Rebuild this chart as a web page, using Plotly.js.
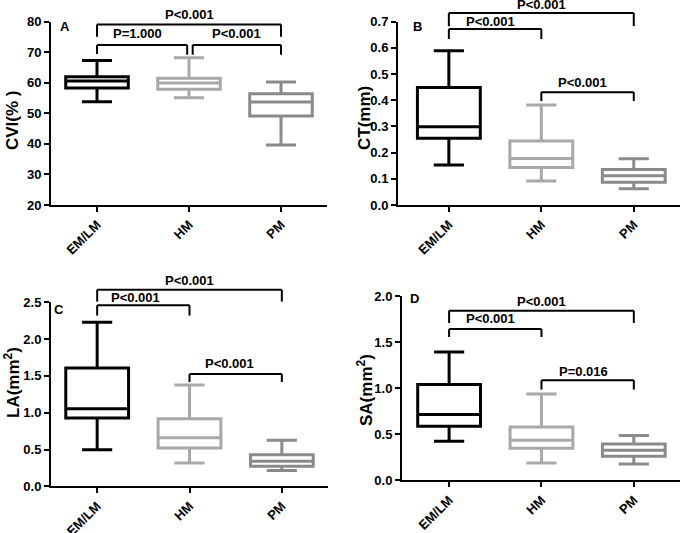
<!DOCTYPE html>
<html><head><meta charset="utf-8">
<script src="https://cdn.plot.ly/plotly-3.0.1.min.js"></script>
<style>html,body{margin:0;padding:0;background:#fff}#chart{width:680px;height:533px}</style>
</head><body><div id="chart"></div>
<script>
const groups = ['EM/LM', 'HM', 'PM'];

// Panel A: CVI(%)
const cviLow  = [53.8, 55.1, 39.6];
const cviQ1   = [58.3, 57.9, 49.1];
const cviMed  = [60.6, 59.9, 53.7];
const cviQ3   = [62.0, 61.5, 56.4];
const cviHigh = [67.3, 68.2, 60.3];
const cviP    = ['P<0.001', 'P=1.000', 'P<0.001'];

// Panel B: CT(mm)
const ctLow  = [0.153, 0.092, 0.062];
const ctQ1   = [0.255, 0.143, 0.087];
const ctMed  = [0.299, 0.178, 0.112];
const ctQ3   = [0.449, 0.244, 0.136];
const ctHigh = [0.589, 0.382, 0.177];
const ctP    = ['P<0.001', 'P<0.001', 'P<0.001'];

// Panel C: LA(mm2)
const laLow  = [0.498, 0.317, 0.213];
const laQ1   = [0.928, 0.521, 0.272];
const laMed  = [1.055, 0.661, 0.340];
const laQ3   = [1.608, 0.919, 0.430];
const laHigh = [2.228, 1.377, 0.625];
const laP    = ['P<0.001', 'P<0.001', 'P<0.001'];

// Panel D: SA(mm2)
const saLow  = [0.424, 0.188, 0.178];
const saQ1   = [0.587, 0.348, 0.261];
const saMed  = [0.714, 0.435, 0.326];
const saQ3   = [1.040, 0.580, 0.395];
const saHigh = [1.395, 0.938, 0.486];
const saP    = ['P<0.001', 'P<0.001', 'P=0.016'];

const groupColors = ['#000000', '#a8a8a8', '#8a8a8a'];
const FONT = 'Arial, "Liberation Sans", sans-serif';

// Panel geometry / layout configuration
const panels = [
  { id: '', letter: 'A', title: 'CVI(% )', low: cviLow, q1: cviQ1, med: cviMed, q3: cviQ3, high: cviHigh, p: cviP,
    xdom: [51/680, 327/680], ydom: [1-205/533, 1-21.7/533], xr: [-0.5, 2.5], yr: [20, 80], dtick: 10, fmt: 'd',
    // brackets: [from, to, bar level, left leg end, right leg end, label x, label y]
    br: [[0, 2, 79.1, 75.1, 75.1, 1.0, 82.3], [0, 0.98, 72.4, 69.4, 69.2, 0.44, 76.2], [1.04, 2, 72.4, 69.2, 69.2, 1.52, 76.0]],
    letterPos: [0.05, 0.975], titlePos: [12, 120] },
  { id: '2', letter: 'B', title: 'CT(mm)', low: ctLow, q1: ctQ1, med: ctMed, q3: ctQ3, high: ctHigh, p: ctP,
    xdom: [398/680, 1], ydom: [1-205/533, 1-21.7/533], xr: [-0.55, 2.5], yr: [0, 0.7], dtick: 0.1, fmt: '.1f',
    br: [[0, 2, 0.733, 0.683, 0.683, 1.0, 0.764], [0, 1, 0.672, 0.634, 0.634, 0.45, 0.700], [1, 2, 0.431, 0.397, 0.397, 1.45, 0.467]],
    letterPos: [0.07, 0.975], titlePos: [364, 118] },
  { id: '3', letter: 'C', title: 'LA(mm<sup>2</sup>)', low: laLow, q1: laQ1, med: laMed, q3: laQ3, high: laHigh, p: laP,
    xdom: [51/680, 328/680], ydom: [1-486.3/533, 1-302.3/533], xr: [-0.5, 2.5], yr: [0, 2.5], dtick: 0.5, fmt: '.1f',
    br: [[0, 2, 2.67, 2.51, 2.51, 1.0, 2.80], [0, 1, 2.46, 2.32, 2.32, 0.42, 2.57], [1, 2, 1.526, 1.417, 1.417, 1.43, 1.666]],
    letterPos: [0.028, 0.96], titlePos: [12, 383] },
  { id: '4', letter: 'D', title: 'SA(mm<sup>2</sup>)', low: saLow, q1: saQ1, med: saMed, q3: saQ3, high: saHigh, p: saP,
    xdom: [402/680, 1], ydom: [1-480.3/533, 1-296.3/533], xr: [-0.51, 2.5], yr: [0, 2.0], dtick: 0.5, fmt: '.1f',
    br: [[0, 2, 1.844, 1.71, 1.71, 1.0, 1.94], [0, 1, 1.645, 1.558, 1.558, 0.45, 1.757], [1, 2, 1.087, 0.986, 0.986, 1.46, 1.185]],
    letterPos: [0.045, 0.99], titlePos: [365, 390] }
];

const data = [];
const shapes = [];
const annotations = [];
const layout = {
  width: 680, height: 533,
  margin: { l: 0, r: 0, t: 0, b: 0 },
  paper_bgcolor: '#ffffff', plot_bgcolor: '#ffffff',
  boxmode: 'overlay',
  showlegend: false,
  font: { family: FONT, color: '#000' }
};

panels.forEach(function (pn) {
  const xa = 'x' + pn.id, ya = 'y' + pn.id;
  groups.forEach(function (g, i) {
    data.push({
      type: 'box', x: [g], q1: [pn.q1[i]], median: [pn.med[i]], q3: [pn.q3[i]],
      lowerfence: [pn.low[i]], upperfence: [pn.high[i]],
      xaxis: xa, yaxis: ya,
      line: { color: groupColors[i], width: 3 },
      fillcolor: 'rgba(255,255,255,0)',
      width: 0.68, whiskerwidth: 0.48, boxpoints: false,
      hoverinfo: 'skip', showlegend: false
    });
  });
  layout['xaxis' + pn.id] = {
    domain: pn.xdom, anchor: ya, type: 'category', categoryorder: 'array', categoryarray: groups,
    range: pn.xr, showline: true, linecolor: '#000', linewidth: 2, showgrid: false, zeroline: false,
    ticks: 'outside', ticklen: 5, tickwidth: 2, tickcolor: '#000', tickangle: -45,
    tickfont: { family: FONT, size: 13, color: '#000', weight: 700 }, fixedrange: true
  };
  layout['yaxis' + pn.id] = {
    domain: pn.ydom, anchor: xa, range: pn.yr, dtick: pn.dtick, tick0: 0, tickformat: pn.fmt,
    showline: true, linecolor: '#000', linewidth: 2, showgrid: false, zeroline: false,
    ticks: 'outside', ticklen: 5, tickwidth: 2, tickcolor: '#000',
    tickfont: { family: FONT, size: 13, color: '#000', weight: 700 }, fixedrange: true
  };
  const dx = function (v) { return (v - pn.xr[0]) / (pn.xr[1] - pn.xr[0]); };
  const dy = function (v) { return (v - pn.yr[0]) / (pn.yr[1] - pn.yr[0]); };
  const xr = xa + ' domain', yr = ya + ' domain';
  pn.br.forEach(function (b, k) {
    const ln = { color: '#000', width: 2 };
    shapes.push({ type: 'line', xref: xr, yref: yr, x0: dx(b[0]), x1: dx(b[0]), y0: dy(b[3]), y1: dy(b[2]), line: ln });
    shapes.push({ type: 'line', xref: xr, yref: yr, x0: dx(b[0]), x1: dx(b[1]), y0: dy(b[2]), y1: dy(b[2]), line: ln });
    shapes.push({ type: 'line', xref: xr, yref: yr, x0: dx(b[1]), x1: dx(b[1]), y0: dy(b[4]), y1: dy(b[2]), line: ln });
    annotations.push({ xref: xr, yref: yr, x: dx(b[5]), y: dy(b[6]), text: pn.p[k], showarrow: false,
      xanchor: 'center', yanchor: 'middle', font: { family: FONT, size: 13, color: '#000', weight: 700 } });
  });
  annotations.push({ xref: xr, yref: yr, x: pn.letterPos[0], y: pn.letterPos[1], text: pn.letter, showarrow: false,
    xanchor: 'center', yanchor: 'middle', font: { family: FONT, size: 13, color: '#000', weight: 700 } });
  annotations.push({ xref: 'paper', yref: 'paper', x: pn.titlePos[0] / 680, y: 1 - pn.titlePos[1] / 533, text: pn.title,
    textangle: -90, showarrow: false, xanchor: 'center', yanchor: 'middle',
    font: { family: FONT, size: 17, color: '#000', weight: 700 } });
});

layout.shapes = shapes;
layout.annotations = annotations;

Plotly.newPlot('chart', data, layout, { displayModeBar: false, staticPlot: true });
</script>
</body></html>
